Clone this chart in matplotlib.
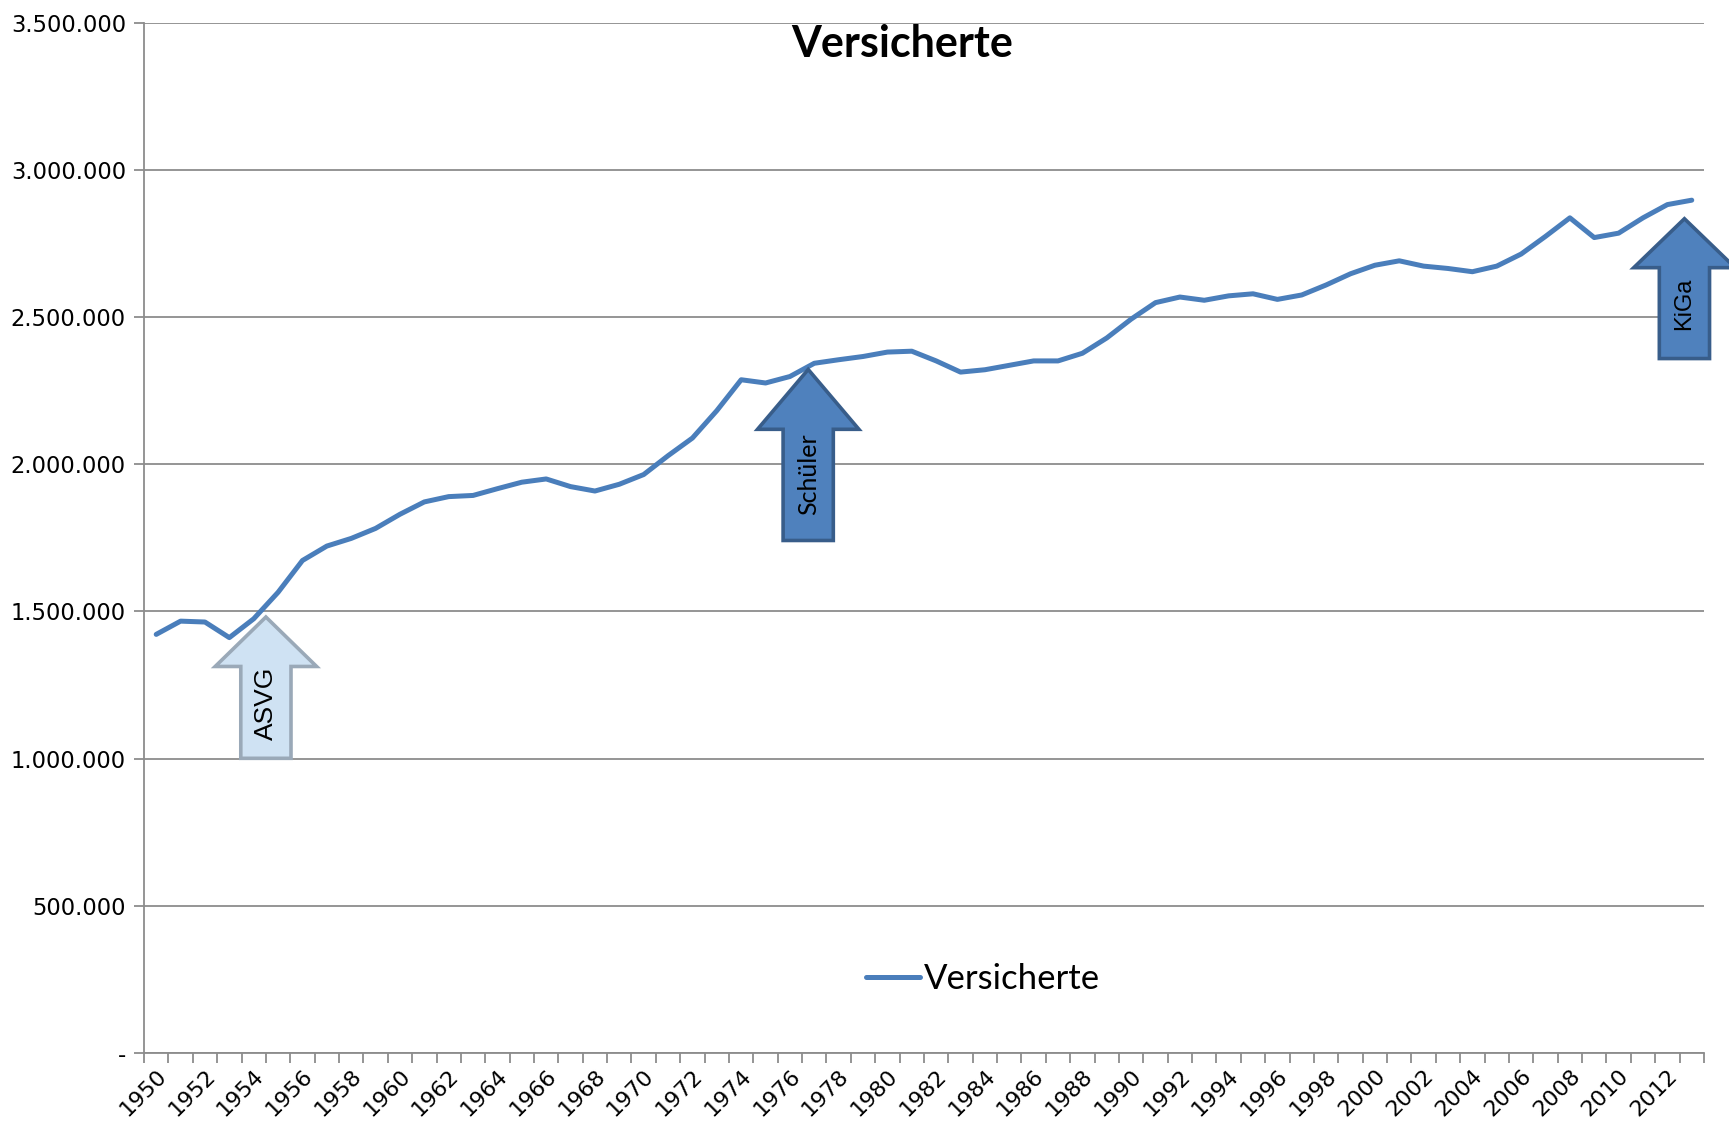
import matplotlib
matplotlib.use("Agg")
import matplotlib.pyplot as plt
from matplotlib.patches import Polygon
from matplotlib.ticker import FuncFormatter, MultipleLocator

# Versicherte per year
years = list(range(1950, 2014))
versicherte = [
    1422000, 1467000, 1464000, 1411000, 1475000, 1565000, 1673000, 1722000,
    1748000, 1782000, 1830000, 1872000, 1890000, 1894000, 1917000, 1939000,
    1950000, 1924000, 1909000, 1932000, 1965000, 2029000, 2089000, 2182000,
    2287000, 2276000, 2298000, 2343000, 2355000, 2366000, 2381000, 2384000,
    2351000, 2313000, 2321000, 2336000, 2351000, 2351000, 2377000, 2429000,
    2493000, 2549000, 2568000, 2557000, 2572000, 2579000, 2560000, 2575000,
    2609000, 2647000, 2676000, 2691000, 2673000, 2665000, 2654000, 2673000,
    2714000, 2774000, 2837000, 2770000, 2785000, 2837000, 2882000, 2897000,
]

# annotation arrows: label, year, tip value, bottom value
arrow_labels = ["ASVG", "Schüler", "KiGa"]
arrow_years = [1954.5, 1976.75, 2012.7]
arrow_tips = [1481000, 2322000, 2834000]
arrow_bottoms = [1001000, 1741000, 2359000]

LINE_BLUE = "#4a7ebb"
GRID = "#8c8c8c"

fig = plt.figure(figsize=(17.29, 11.28), dpi=100)
ax = fig.add_axes([0.0833, 0.0665, 0.9022, 0.9134])

ax.plot(years, versicherte, color=LINE_BLUE, lw=3.6, solid_capstyle="round",
        label="Versicherte", zorder=3)

ax.set_xlim(1949.5, 2013.5)
ax.set_ylim(0, 3500000)

ax.yaxis.set_major_locator(MultipleLocator(500000))
ax.yaxis.set_major_formatter(FuncFormatter(
    lambda v, p: "-" if v == 0 else f"{int(v):,}".replace(",", ".")))
ax.grid(axis="y", color=GRID, lw=1.3)
ax.set_axisbelow(True)

ax.set_xticks(years[::2])
ax.set_xticklabels([str(y) for y in years[::2]], rotation=45, ha="right",
                   rotation_mode="anchor")
ax.set_xticks([y - 0.5 for y in years] + [2013.5], minor=True)
ax.tick_params(axis="x", which="major", length=0, pad=9, labelsize=16)
ax.tick_params(axis="x", which="minor", length=7, width=1.3, color=GRID)
ax.tick_params(axis="y", length=7, width=1.3, color=GRID, labelsize=16.3, pad=6)

for s in ["top", "right"]:
    ax.spines[s].set_visible(False)
for s in ["left", "bottom"]:
    ax.spines[s].set_color(GRID)
    ax.spines[s].set_linewidth(1.3)

# arrows in data coordinates
shaft_w = 1.03
head_w = 2.08
head_frac = 0.35
styles = [
    ("#cfe2f3", "#9aa9b8", ["Liberation Sans", "DejaVu Sans"], 19),
    ("#4f81bd", "#385d8a", ["Lato", "DejaVu Sans"], 18),
    ("#4f81bd", "#385d8a", ["Liberation Sans", "DejaVu Sans"], 17),
]
for label, yr, tip, bot, (fc, ec, fam, fs) in zip(
        arrow_labels, arrow_years, arrow_tips, arrow_bottoms, styles):
    hb = tip - (tip - bot) * head_frac
    pts = [
        (yr, tip), (yr + head_w, hb), (yr + shaft_w, hb), (yr + shaft_w, bot),
        (yr - shaft_w, bot), (yr - shaft_w, hb), (yr - head_w, hb),
    ]
    ax.add_patch(Polygon(pts, closed=True, facecolor=fc, edgecolor=ec,
                         lw=2.6, joinstyle="miter", zorder=4, clip_on=False))
    ax.text(yr, bot + 0.6 * (hb - bot), label, rotation=90, ha="center",
            va="center", fontsize=fs, family=fam, color="black", zorder=5)

ax.text(0.486, 0.979, "Versicherte", transform=ax.transAxes, ha="center",
        va="center", fontsize=31, fontweight="bold", family=["Lato", "DejaVu Sans"])

leg = ax.legend(loc="center", bbox_to_anchor=(0.538, 0.072), frameon=False,
                handlelength=1.55, handletextpad=0.12,
                prop={"family": ["Lato", "DejaVu Sans"], "size": 25})

fig.savefig("out.png", dpi=100, facecolor="white")
